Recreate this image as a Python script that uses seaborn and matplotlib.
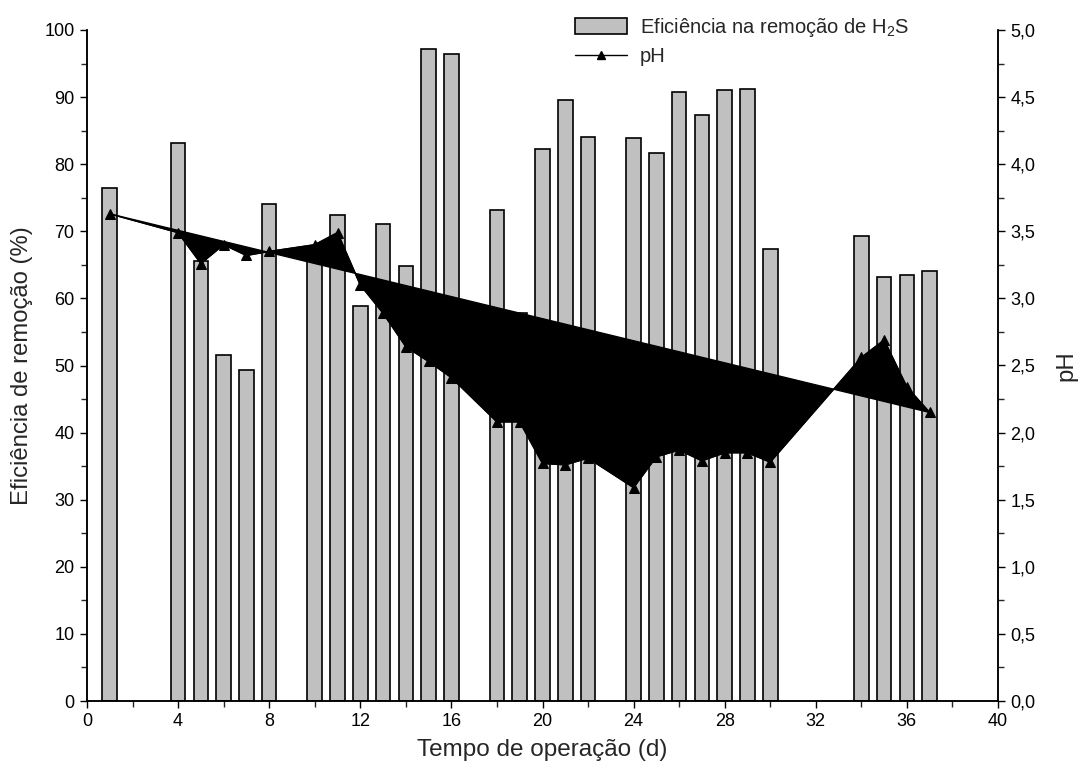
import matplotlib
matplotlib.use("Agg")
import matplotlib.pyplot as plt
import seaborn as sns
import pandas as pd
from matplotlib.ticker import MultipleLocator, FuncFormatter
from matplotlib.patches import Patch
from matplotlib.lines import Line2D

# ---- data ----
days = [1, 4, 5, 6, 7, 8, 10, 11, 12, 13, 14, 15, 16, 18, 19, 20, 21, 22,
        24, 25, 26, 27, 28, 29, 30, 34, 35, 36, 37]
efficiency = [76.5, 83.2, 65.5, 51.5, 49.3, 74.1, 67.0, 72.4, 58.9, 71.1, 64.8,
              97.2, 96.4, 73.2, 57.8, 82.2, 89.6, 84.1, 83.9, 81.7, 90.8, 87.3,
              91.1, 91.2, 67.4, 69.3, 63.2, 63.5, 64.1]
ph = [3.63, 3.49, 3.26, 3.40, 3.32, 3.35, 3.40, 3.49, 3.10, 2.89, 2.64, 2.53,
      2.41, 2.08, 2.08, 1.77, 1.76, 1.81, 1.59, 1.82, 1.87, 1.79, 1.85, 1.85,
      1.78, 2.56, 2.69, 2.34, 2.15]
x_label = "Tempo de operação (d)"
y_label = "Eficiência de remoção (%)"
y2_label = "pH"
bar_legend = "Eficiência na remoção de H$_2$S"
line_legend = "pH"

df = pd.DataFrame({"day": days, "eff": efficiency, "ph": ph})

sns.set_style("ticks")
plt.rcParams["font.family"] = ["Liberation Sans", "DejaVu Sans"]
plt.rcParams["mathtext.fontset"] = "custom"
plt.rcParams["mathtext.rm"] = "Liberation Sans"

fig = plt.figure(figsize=(10.83, 7.64), dpi=100)
ax = fig.add_axes([87 / 1083, 1 - 701 / 764, (998 - 87) / 1083, (701 - 30) / 764])

bar_color = "#C0C0C0"
sns.barplot(data=df, x="day", y="eff", native_scale=True, width=0.64,
            color=bar_color, saturation=1, edgecolor="black", linewidth=1.2,
            ax=ax, zorder=1)

ax2 = ax.twinx()
ax2.fill(df["day"], df["ph"], color="black", zorder=2)
sns.lineplot(data=df, x="day", y="ph", color="black", linewidth=1.0,
             marker="^", markersize=7, markeredgecolor="black", ax=ax2,
             zorder=3, sort=False)

ax.set_xlim(0, 40)
ax.set_ylim(0, 100)
ax2.set_ylim(0, 5)

ax.xaxis.set_major_locator(MultipleLocator(4))
ax.xaxis.set_minor_locator(MultipleLocator(2))
ax.yaxis.set_major_locator(MultipleLocator(10))
ax.yaxis.set_minor_locator(MultipleLocator(5))
ax2.yaxis.set_major_locator(MultipleLocator(0.5))
ax2.yaxis.set_minor_locator(MultipleLocator(0.25))
ax2.yaxis.set_major_formatter(FuncFormatter(lambda v, p: f"{v:.1f}".replace(".", ",")))
ax.xaxis.set_major_formatter(FuncFormatter(lambda v, p: f"{int(round(v))}"))

for a in (ax, ax2):
    a.spines["top"].set_visible(False)
    for s in ("left", "right", "bottom"):
        a.spines[s].set_linewidth(1.1)
        a.spines[s].set_color("black")
    a.tick_params(which="major", length=5, width=1.0, labelsize=13, colors="black", pad=4)
    a.tick_params(which="minor", length=4, width=1.0)

ax.set_xlabel(x_label, fontsize=17.5, labelpad=6)
ax.set_ylabel(y_label, fontsize=17.2, labelpad=8)
ax2.set_ylabel(y2_label, fontsize=17.2, labelpad=14)

handles = [Patch(facecolor=bar_color, edgecolor="black", linewidth=1.2),
           Line2D([0], [0], color="black", linewidth=1.0, marker="^", markersize=6)]
fig.legend(handles, [bar_legend, line_legend], loc="upper left",
           bbox_to_anchor=(567 / 1083, 1 - 8 / 764), frameon=False,
           fontsize=14.5, handlelength=2.6, handleheight=0.8,
           handletextpad=0.6, labelspacing=0.4, borderaxespad=0)

fig.savefig("out.png", dpi=100)
